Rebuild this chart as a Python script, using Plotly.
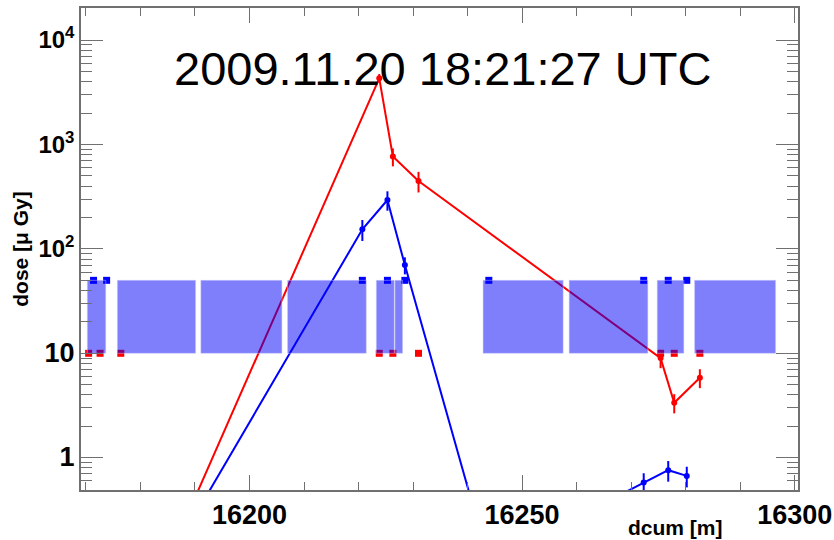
import numpy as np
import plotly.graph_objects as go

# Dose measurements along the ring (dcum in metres, dose in micro-Gray)
red_dcum = [16176.4, 16223.8, 16226.3, 16231.0, 16275.4, 16277.9, 16282.6]
red_dose = [0.01, 4300, 767, 447, 9.0, 3.36, 5.84]
red_err = [0, 430, 150, 100, 1.8, 0.7, 1.2]

blue_dcum = [16173.8, 16220.7, 16225.3, 16228.5, 16243.9, 16272.3, 16276.8, 16280.2]
blue_dose = [0.01, 154, 294, 70, 0.1, 0.58, 0.76, 0.67]
blue_err = [0, 35, 62, 13, 0, 0.13, 0.17, 0.15]

# Monitor positions
red_mon_dcum = [16170.5, 16172.6, 16176.4, 16223.8, 16226.3, 16231.0, 16275.4, 16277.9, 16282.6]
red_mon_level = 10
blue_mon_dcum = [16171.4, 16173.8, 16220.7, 16225.3, 16228.5, 16243.9, 16272.3, 16276.8, 16280.2]
blue_mon_level = 50

# Element extents (start, end) drawn as bands between 10 and 50
band_start = [16170.26, 16175.77, 16191.08, 16206.98, 16223.26, 16226.69,
              16242.84, 16258.63, 16274.78, 16281.63]
band_end = [16173.64, 16190.12, 16205.95, 16221.42, 16226.56, 16228.08,
            16257.53, 16273.06, 16279.66, 16296.49]
band_low, band_high = 10, 50

title_text = "2009.11.20 18:21:27 UTC"
y_tickvals = [1, 10, 100, 1000, 10000]
y_ticktext = ["<span style='font-size:27px'>1</span>",
              "<span style='font-size:27px'>10</span>",
              "10<sup>2</sup>", "10<sup>3</sup>", "10<sup>4</sup>"]

x_range = [16169.1, 16300.6]
y_range = [-0.309, 4.307]

FONT = "Liberation Sans, Arial, Helvetica, sans-serif"
AXIS_COL = "#707070"

fig = go.Figure()

fig.add_trace(go.Scatter(
    x=red_mon_dcum, y=[red_mon_level] * len(red_mon_dcum), mode="markers",
    marker=dict(symbol="square", size=7, color="#ff0000", line=dict(width=0)),
    showlegend=False, hoverinfo="skip"))
fig.add_trace(go.Scatter(
    x=blue_mon_dcum, y=[blue_mon_level] * len(blue_mon_dcum), mode="markers",
    marker=dict(symbol="square", size=7, color="#0000ff", line=dict(width=0)),
    showlegend=False, hoverinfo="skip"))

fig.add_trace(go.Scatter(
    x=blue_dcum, y=blue_dose, mode="lines+markers",
    line=dict(color="#0000ff", width=2),
    marker=dict(symbol="circle", size=6, color="#0000ff"),
    error_y=dict(type="data", array=blue_err, color="#0000ff", thickness=2, width=0),
    showlegend=False))
fig.add_trace(go.Scatter(
    x=red_dcum, y=red_dose, mode="lines+markers",
    line=dict(color="#ff0000", width=2),
    marker=dict(symbol="circle", size=6, color="#ff0000"),
    error_y=dict(type="data", array=red_err, color="#ff0000", thickness=2, width=0),
    showlegend=False))

# Translucent bands on top of everything
bx, by = [], []
for s, e in zip(band_start, band_end):
    bx += [s, e, e, s, s, None]
    by += [band_low, band_low, band_high, band_high, band_low, None]
fig.add_trace(go.Scatter(
    x=bx, y=by, mode="lines", fill="toself",
    fillcolor="rgba(0,0,250,0.5)", line=dict(width=0.6, color="rgba(200,200,255,0.8)"),
    showlegend=False, hoverinfo="skip"))

y_minor = [m * 10 ** k for k in range(-1, 5) for m in range(2, 10)]

fig.update_xaxes(
    type="linear", range=x_range, tickformat="d", automargin=False,
    tick0=16200, dtick=50, ticks="inside", ticklen=15, tickwidth=1, tickcolor=AXIS_COL,
    minor=dict(dtick=10, tick0=16200, ticks="inside", ticklen=8, tickwidth=1, tickcolor=AXIS_COL),
    showline=True, linecolor=AXIS_COL, linewidth=1.5, mirror="ticks",
    showgrid=False, zeroline=False,
    tickfont=dict(family=FONT, size=27, color="black", weight="bold"),
)
fig.update_yaxes(
    type="log", range=y_range, automargin=False,
    tickmode="array", tickvals=y_tickvals, ticktext=y_ticktext,
    ticks="inside", ticklen=22, tickwidth=1, tickcolor=AXIS_COL,
    minor=dict(tickmode="array", tickvals=y_minor, ticks="inside", ticklen=11,
               tickwidth=1, tickcolor=AXIS_COL),
    showline=True, linecolor=AXIS_COL, linewidth=1.5, mirror="ticks",
    showgrid=False, zeroline=False,
    tickfont=dict(family=FONT, size=24, color="black", weight="bold"),
    title=dict(text="dose [\u03bc Gy]", font=dict(family=FONT, size=21, color="black", weight="bold"),
               standoff=4),
)

fig.add_annotation(
    text=title_text, xref="paper", yref="paper", x=(171.5 - 81) / 716.5, y=(490 - 68.3) / 482,
    xanchor="left", yanchor="middle", showarrow=False,
    font=dict(family=FONT, size=47, color="black"))
fig.add_annotation(
    text="dcum [m]", xref="paper", yref="paper", x=(725 - 81) / 716.5, y=-(527 - 490) / 482,
    xanchor="right", yanchor="middle", showarrow=False,
    font=dict(family=FONT, size=21, color="black", weight="bold"))

fig.update_layout(
    width=834, height=540,
    margin=dict(l=81, r=36, t=8, b=50),
    plot_bgcolor="white", paper_bgcolor="white",
    showlegend=False,
)

fig.write_html("out.html")
